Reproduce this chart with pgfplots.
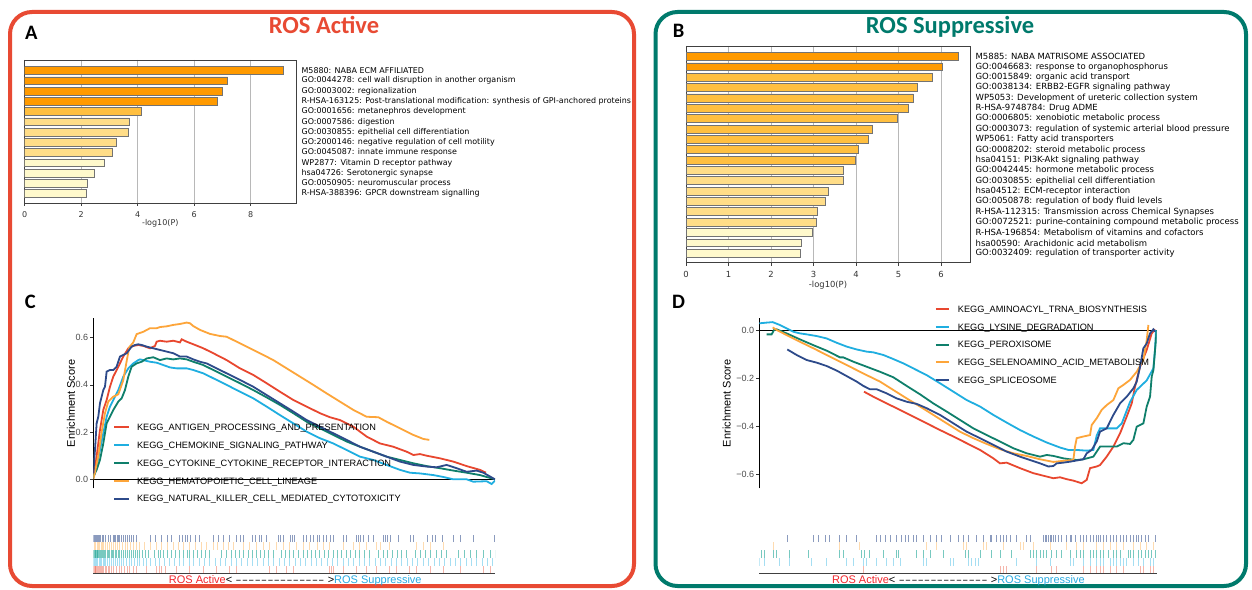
\documentclass[border=0pt]{standalone}
\usepackage{pgfplots}
\pgfplotsset{compat=1.18}
\usepackage{graphicx}
\usepackage{fontspec}
\setmainfont{Liberation Sans}
\newfontfamily\dejavu{DejaVu Sans}
\newfontfamily\carlito{Carlito}
\definecolor{rosred}{HTML}{E84A33}
\definecolor{rosteal}{HTML}{007A6C}
\definecolor{gred}{HTML}{E8472F}
\definecolor{gblue}{HTML}{1FAEE0}
\definecolor{gteal}{HTML}{0F7F6B}
\definecolor{gorange}{HTML}{FDA53A}
\definecolor{gnavy}{HTML}{2D4A8A}
\definecolor{rteal}{HTML}{1FA596}
\definecolor{barA}{HTML}{FF9A00}
\definecolor{barB}{HTML}{FFBF40}
\definecolor{barC}{HTML}{FFDD88}
\definecolor{barD}{HTML}{FFF9CC}
\definecolor{txtred}{HTML}{F2262C}
\definecolor{txtblue}{HTML}{29AAE1}
\newcommand\dirlabel{\textcolor{txtred}{ROS Active}<\hbox to 95.5pt{\cleaders\hbox to 6.37pt{\hss\scalebox{0.72}[1]{–}\hss}\hfil}>\textcolor{txtblue}{ROS Suppressive}}
\pgfplotsset{
  barchart/.style={
    anchor=south west, scale only axis, xbar, bar shift=0pt,
    y dir=reverse, xmajorgrids, grid style={draw=black!28, line width=0.9pt},
    axis line style={draw=black!75, line width=0.8pt},
    xtick pos=left, tick align=outside, major tick length=3pt,
    tick style={black!75, line width=0.7pt},
    ytick pos=right, yticklabel pos=right, ytick style={draw=none},
    yticklabel style={anchor=west, inner sep=0pt, xshift=2.4pt},
    xticklabel style={text=black!80, inner sep=0pt, anchor=north, yshift=-5pt},
    xlabel style={text=black!80, inner sep=0pt, at={(axis description cs:0.5,0)}, anchor=north},
  },
  gsea/.style={
    anchor=south west, scale only axis, height=170pt,
    axis x line=none, axis y line*=left,
    y axis line style={-, black, line width=0.9pt},
    tick align=outside, major tick length=3pt, tick style={black!80, line width=0.7pt},
    yticklabel style={font=\fontsize{9}{9}\selectfont, text=black!70, inner sep=0pt, anchor=east, xshift=-2pt},
    ylabel={Enrichment Score},
    ylabel style={font=\fontsize{11}{11}\selectfont, anchor=center},
    legend cell align=left,
    legend style={draw=none, fill=none, inner sep=0pt, outer sep=0pt, anchor=north west,
      font=\fontsize{9.2}{9.2}\selectfont,
      nodes={inner sep=0pt, text height=6.6pt, text depth=0pt}},
  },
  rug/.style={
    anchor=south west, scale only axis, height=39pt, ymin=0, ymax=5,
    axis x line*=bottom, axis y line=none, xtick=\empty, ytick=\empty,
    x axis line style={-, black!75, line width=1.3pt},
  },
}
\begin{document}
\begin{tikzpicture}
\path[use as bounding box] (0pt,0pt) rectangle (1252pt,589pt);
\clip (0pt,0pt) rectangle (1252pt,589pt);
\fill[white] (0pt,0pt) rectangle (1252pt,589pt);

% borders
\draw[rosred, line width=4pt, rounded corners=22pt] (10pt,3pt) rectangle (634pt,577pt);
\draw[rosteal, line width=4pt, rounded corners=22pt] (655.5pt,3pt) rectangle (1246pt,577pt);

% titles and panel letters
\node[anchor=base, inner sep=0pt, text=rosred, font=\carlito\bfseries\fontsize{24.5}{24.5}\selectfont] at (324pt,555.7pt) {ROS Active};
\node[anchor=base, inner sep=0pt, text=rosteal, font=\carlito\bfseries\fontsize{24.5}{24.5}\selectfont] at (950pt,555.7pt) {ROS Suppressive};
\node[anchor=base west, inner sep=0pt, font=\carlito\bfseries\fontsize{20.5}{20.5}\selectfont] at (25pt,549.7pt) {A};
\node[anchor=base west, inner sep=0pt, font=\carlito\bfseries\fontsize{20.5}{20.5}\selectfont] at (672.7pt,551pt) {B};
\node[anchor=base west, inner sep=0pt, font=\carlito\bfseries\fontsize{20.5}{20.5}\selectfont] at (24.6pt,280pt) {C};
\node[anchor=base west, inner sep=0pt, font=\carlito\bfseries\fontsize{20.5}{20.5}\selectfont] at (672pt,280pt) {D};

% ---------------- Panel A bar chart
\begin{axis}[barchart, at={(24.6pt,386pt)}, width=271.4pt, height=143pt,
  bar width=7.8pt, xmin=0, xmax=9.6, ymin=-0.022, ymax=13.906,
  yticklabel style={font=\dejavu\fontsize{7.95}{7.95}\selectfont},
  xticklabel style={font=\dejavu\fontsize{8}{8}\selectfont},
  xlabel style={font=\dejavu\fontsize{8}{8}\selectfont},
  xtick={0,2,4,6,8}, xticklabels={0,2,4,6,8},
  xlabel={-log10(P)}, xlabel style={yshift=-16pt},
  ytick={1,2,3,4,5,6,7,8,9,10,11,12,13},
  yticklabels={M5880: NABA ECM AFFILIATED,
    GO:0044278: cell wall disruption in another organism,
    GO:0003002: regionalization,
    R-HSA-163125: Post-translational modification: synthesis of GPI-anchored proteins,
    GO:0001656: metanephros development,
    GO:0007586: digestion,
    GO:0030855: epithelial cell differentiation,
    GO:2000146: negative regulation of cell motility,
    GO:0045087: innate immune response,
    WP2877: Vitamin D receptor pathway,
    hsa04726: Serotonergic synapse,
    GO:0050905: neuromuscular process,
    R-HSA-388396: GPCR downstream signalling}]
\addplot[fill=barA, draw=black!55, line width=0.7pt] coordinates {(9.17,1) (7.18,2) (6.99,3) (6.81,4)};
\addplot[fill=barB, draw=black!55, line width=0.7pt] coordinates {(4.13,5)};
\addplot[fill=barC, draw=black!55, line width=0.7pt] coordinates {(3.71,6) (3.67,7) (3.25,8) (3.12,9)};
\addplot[fill=barD, draw=black!55, line width=0.7pt] coordinates {(2.82,10) (2.47,11) (2.21,12) (2.18,13)};
\end{axis}

% ---------------- Panel B bar chart
\begin{axis}[barchart, at={(686pt,326.3pt)}, width=284pt, height=216.7pt,
  bar width=7.9pt, xmin=0, xmax=6.68, ymin=-0.014, ymax=20.918,
  yticklabel style={font=\dejavu\fontsize{8.5}{8.5}\selectfont},
  xticklabel style={font=\dejavu\fontsize{8.4}{8.4}\selectfont},
  xlabel style={font=\dejavu\fontsize{8.4}{8.4}\selectfont},
  xtick={0,1,2,3,4,5,6}, xticklabels={0,1,2,3,4,5,6},
  xlabel={-log10(P)}, xlabel style={yshift=-18pt},
  ytick={1,2,3,4,5,6,7,8,9,10,11,12,13,14,15,16,17,18,19,20},
  yticklabels={M5885: NABA MATRISOME ASSOCIATED,
    GO:0046683: response to organophosphorus,
    GO:0015849: organic acid transport,
    GO:0038134: ERBB2-EGFR signaling pathway,
    WP5053: Development of ureteric collection system,
    R-HSA-9748784: Drug ADME,
    GO:0006805: xenobiotic metabolic process,
    GO:0003073: regulation of systemic arterial blood pressure,
    WP5061: Fatty acid transporters,
    GO:0008202: steroid metabolic process,
    hsa04151: PI3K-Akt signaling pathway,
    GO:0042445: hormone metabolic process,
    GO:0030855: epithelial cell differentiation,
    hsa04512: ECM-receptor interaction,
    GO:0050878: regulation of body fluid levels,
    R-HSA-112315: Transmission across Chemical Synapses,
    GO:0072521: purine-containing compound metabolic process,
    R-HSA-196854: Metabolism of vitamins and cofactors,
    hsa00590: Arachidonic acid metabolism,
    GO:0032409: regulation of transporter activity}]
\addplot[fill=barA, draw=black!55, line width=0.7pt] coordinates {(6.41,1) (6.02,2)};
\addplot[fill=barB, draw=black!55, line width=0.7pt] coordinates {(5.80,3) (5.44,4) (5.34,5) (5.23,6) (4.96,7) (4.39,8) (4.30,9) (4.06,10) (3.99,11)};
\addplot[fill=barC, draw=black!55, line width=0.7pt] coordinates {(3.70,12) (3.69,13) (3.34,14) (3.28,15) (3.08,16) (3.07,17)};
\addplot[fill=barD, draw=black!55, line width=0.7pt] coordinates {(2.97,18) (2.71,19) (2.68,20)};
\end{axis}

% ---------------- Panel C running enrichment score
\begin{axis}[gsea, at={(93.3pt,100.7pt)}, width=401.7pt,
  xmin=0, xmax=1205, ymin=-0.038, ymax=0.682,
  ytick={0,0.2,0.4,0.6}, yticklabels={0.0,0.2,0.4,0.6},
  ylabel style={at={(axis description cs:-0.0555,0.5)}},
  legend style={at={(0.0498,0.378)}, row sep=11.2pt,
    /tikz/every odd column/.append style={column sep=6.7pt}},
  legend image code/.code={\draw[#1, line width=2pt] (0pt,0pt) -- (15pt,0pt);}]
\addplot[black, line width=0.9pt, forget plot] coordinates {(0,0) (1205,0)};
\addplot[gred, line width=1.8pt] coordinates {(0,0.011)(10,0.096)(20,0.209)(30,0.294)(40,0.336)(50,0.392)(60,0.435)(75,0.477)(90,0.520)(105,0.555)(120,0.565)(135,0.569)(150,0.565)(170,0.555)(185,0.565)(190,0.583)(200,0.587)(220,0.583)(240,0.587)(260,0.580)(265,0.593)(280,0.583)(300,0.572)(330,0.555)(360,0.534)(400,0.505)(440,0.470)(480,0.442)(520,0.407)(560,0.371)(600,0.336)(640,0.308)(680,0.280)(710,0.263)(740,0.251)(780,0.223)(820,0.181)(860,0.152)(900,0.138)(940,0.117)(960,0.103)(980,0.107)(1000,0.100)(1040,0.089)(1080,0.075)(1120,0.056)(1160,0.040)(1178,0.028)};
\addlegendentry{KEGG\_ANTIGEN\_PROCESSING\_AND\_PRESENTATION}
\addplot[gblue, line width=1.8pt] coordinates {(0,0.004)(10,0.054)(20,0.124)(30,0.195)(40,0.265)(50,0.308)(60,0.336)(75,0.378)(90,0.435)(105,0.470)(120,0.491)(135,0.505)(140,0.508)(150,0.505)(170,0.498)(190,0.494)(210,0.484)(230,0.474)(250,0.470)(280,0.470)(300,0.463)(330,0.449)(360,0.428)(400,0.400)(440,0.371)(480,0.343)(520,0.308)(560,0.272)(600,0.237)(640,0.202)(680,0.174)(720,0.152)(760,0.124)(800,0.096)(840,0.082)(880,0.061)(920,0.040)(950,0.028)(980,0.025)(1020,0.018)(1050,0.010)(1080,0.000)(1120,0.000)(1140,-0.010)(1180,-0.008)(1195,-0.020)(1205,-0.005)};
\addlegendentry{KEGG\_CHEMOKINE\_SIGNALING\_PATHWAY}
\addplot[gteal, line width=1.8pt] coordinates {(0,0.011)(10,0.040)(20,0.082)(30,0.152)(40,0.237)(50,0.265)(60,0.294)(75,0.329)(85,0.343)(95,0.378)(105,0.435)(115,0.477)(130,0.491)(145,0.498)(160,0.512)(180,0.517)(200,0.505)(220,0.512)(240,0.508)(260,0.512)(280,0.508)(300,0.498)(330,0.484)(360,0.463)(400,0.435)(440,0.407)(480,0.378)(520,0.347)(560,0.315)(600,0.280)(640,0.244)(680,0.216)(720,0.188)(760,0.160)(800,0.138)(840,0.117)(880,0.096)(920,0.082)(960,0.068)(1000,0.056)(1040,0.047)(1080,0.037)(1120,0.028)(1160,0.018)(1205,0.000)};
\addlegendentry{KEGG\_CYTOKINE\_CYTOKINE\_RECEPTOR\_INTERACTION}
\addplot[gorange, line width=1.8pt] coordinates {(0,0.000)(5,0.030)(15,0.100)(25,0.200)(35,0.280)(45,0.330)(60,0.350)(75,0.360)(90,0.420)(100,0.500)(108,0.560)(120,0.580)(130,0.615)(140,0.620)(150,0.625)(170,0.640)(190,0.640)(200,0.645)(220,0.648)(240,0.654)(260,0.658)(280,0.664)(290,0.661)(300,0.649)(320,0.633)(350,0.616)(380,0.607)(400,0.604)(420,0.590)(460,0.562)(500,0.534)(540,0.505)(580,0.470)(620,0.435)(660,0.400)(700,0.364)(740,0.329)(780,0.294)(820,0.265)(855,0.263)(880,0.244)(920,0.216)(960,0.188)(990,0.171)(1008,0.167)};
\addlegendentry{KEGG\_HEMATOPOIETIC\_CELL\_LINEAGE}
\addplot[gnavy, line width=1.8pt] coordinates {(0,0.025)(5,0.124)(10,0.237)(15,0.265)(20,0.322)(25,0.350)(30,0.378)(35,0.392)(40,0.456)(50,0.463)(60,0.463)(70,0.477)(80,0.520)(90,0.527)(100,0.534)(115,0.562)(125,0.569)(135,0.572)(145,0.569)(160,0.562)(180,0.555)(200,0.548)(220,0.541)(240,0.534)(260,0.520)(280,0.520)(300,0.508)(320,0.498)(340,0.491)(360,0.477)(400,0.449)(440,0.421)(480,0.392)(520,0.357)(560,0.322)(600,0.287)(640,0.251)(680,0.223)(720,0.195)(760,0.167)(800,0.138)(840,0.117)(880,0.096)(920,0.075)(960,0.061)(1000,0.054)(1030,0.051)(1060,0.061)(1090,0.047)(1120,0.032)(1150,0.037)(1170,0.028)(1205,0.000)};
\addlegendentry{KEGG\_NATURAL\_KILLER\_CELL\_MEDIATED\_CYTOTOXICITY}
\end{axis}

% ---------------- Panel C rug
\begin{axis}[rug, at={(93.3pt,15.7pt)}, width=401.7pt, xmin=0, xmax=1205]
\addplot[gnavy, opacity=0.55, line width=1pt, quiver={u=0,v=0.95}] coordinates {(2,4)(5,4)(8,4)(11,4)(14,4)(17,4)(20,4)(23,4)(27,4)(32,4)(38,4)(45,4)(52,4)(60,4)(64,4)(68,4)(72,4)(76,4)(80,4)(86,4)(90,4)(96,4)(102,4)(108,4)(114,4)(120,4)(130,4)(172,4)(188,4)(204,4)(222,4)(236,4)(260,4)(268,4)(276,4)(284,4)(292,4)(308,4)(320,4)(360,4)(376,4)(392,4)(408,4)(430,4)(442,4)(452,4)(478,4)(488,4)(498,4)(506,4)(520,4)(556,4)(562,4)(570,4)(592,4)(598,4)(604,4)(632,4)(640,4)(652,4)(662,4)(672,4)(680,4)(690,4)(700,4)(712,4)(722,4)(750,4)(760,4)(790,4)(796,4)(802,4)(812,4)(826,4)(840,4)(872,4)(878,4)(882,4)(892,4)(916,4)(952,4)(962,4)(1002,4)(1016,4)(1026,4)(1046,4)(1080,4)(1100,4)(1140,4)(1202,4)};
\addplot[gorange, opacity=0.4, line width=1pt, quiver={u=0,v=0.95}] coordinates {(4,3)(8,3)(12,3)(16,3)(20,3)(24,3)(28,3)(32,3)(38,3)(44,3)(50,3)(56,3)(62,3)(68,3)(74,3)(80,3)(88,3)(96,3)(104,3)(112,3)(120,3)(130,3)(140,3)(154,3)(172,3)(190,3)(206,3)(224,3)(240,3)(256,3)(272,3)(290,3)(308,3)(326,3)(340,3)(362,3)(374,3)(390,3)(406,3)(422,3)(452,3)(470,3)(490,3)(510,3)(530,3)(550,3)(570,3)(590,3)(610,3)(630,3)(650,3)(672,3)(690,3)(710,3)(750,3)(780,3)(800,3)(820,3)(850,3)(862,3)(890,3)(970,3)(990,3)(1010,3)(1050,3)};
\addplot[rteal, opacity=0.6, line width=1pt, quiver={u=0,v=0.95}] coordinates {(2,2)(4,2)(6,2)(8,2)(10,2)(12,2)(14,2)(17,2)(20,2)(23,2)(26,2)(29,2)(32,2)(35,2)(38,2)(42,2)(46,2)(50,2)(54,2)(58,2)(62,2)(66,2)(70,2)(75,2)(80,2)(85,2)(90,2)(96,2)(102,2)(108,2)(114,2)(120,2)(126,2)(133,2)(140,2)(148,2)(156,2)(165,2)(185,2)(195,2)(203,2)(212,2)(222,2)(234,2)(246,2)(258,2)(270,2)(282,2)(290,2)(300,2)(312,2)(324,2)(336,2)(348,2)(386,2)(400,2)(414,2)(426,2)(440,2)(452,2)(466,2)(478,2)(490,2)(502,2)(514,2)(526,2)(540,2)(565,2)(578,2)(590,2)(602,2)(616,2)(630,2)(642,2)(654,2)(668,2)(680,2)(694,2)(706,2)(720,2)(734,2)(746,2)(760,2)(772,2)(786,2)(800,2)(814,2)(828,2)(856,2)(870,2)(884,2)(898,2)(912,2)(926,2)(940,2)(968,2)(982,2)(996,2)(1012,2)(1028,2)(1044,2)(1060,2)(1094,2)(1112,2)(1130,2)(1150,2)(1170,2)(1190,2)(1205,2)};
\addplot[gblue, opacity=0.4, line width=1pt, quiver={u=0,v=0.95}] coordinates {(2,1)(5,1)(8,1)(11,1)(14,1)(18,1)(22,1)(26,1)(30,1)(34,1)(38,1)(43,1)(48,1)(54,1)(60,1)(66,1)(72,1)(78,1)(85,1)(92,1)(100,1)(108,1)(116,1)(124,1)(132,1)(140,1)(150,1)(160,1)(172,1)(186,1)(200,1)(214,1)(228,1)(244,1)(258,1)(272,1)(288,1)(302,1)(318,1)(334,1)(350,1)(366,1)(382,1)(398,1)(414,1)(430,1)(446,1)(462,1)(478,1)(494,1)(510,1)(526,1)(542,1)(558,1)(574,1)(590,1)(606,1)(622,1)(638,1)(654,1)(670,1)(686,1)(702,1)(718,1)(734,1)(750,1)(766,1)(782,1)(798,1)(814,1)(830,1)(846,1)(862,1)(878,1)(894,1)(910,1)(926,1)(942,1)(958,1)(974,1)(990,1)(1006,1)(1022,1)(1038,1)(1054,1)(1070,1)(1086,1)(1102,1)(1118,1)(1134,1)(1150,1)(1166,1)(1182,1)(1198,1)};
\addplot[gred, opacity=0.4, line width=1pt, quiver={u=0,v=0.95}] coordinates {(2,0)(4,0)(6,0)(8,0)(10,0)(12,0)(15,0)(18,0)(21,0)(24,0)(28,0)(32,0)(36,0)(40,0)(45,0)(50,0)(56,0)(62,0)(70,0)(78,0)(86,0)(94,0)(102,0)(110,0)(120,0)(130,0)(160,0)(190,0)(198,0)(204,0)(216,0)(250,0)(290,0)(330,0)(370,0)(410,0)(430,0)(530,0)(550,0)(580,0)(600,0)(710,0)(716,0)(722,0)(750,0)(790,0)(820,0)(850,0)(890,0)(910,0)(950,0)(970,0)(1010,0)(1050,0)(1100,0)(1170,0)(1190,0)};
\end{axis}

% ---------------- Panel D running enrichment score
\begin{axis}[gsea, at={(759.3pt,100.7pt)}, width=397.4pt,
  xmin=0, xmax=1192, ymin=-0.660, ymax=0.049,
  ytick={-0.6,-0.4,-0.2,0}, yticklabels={−0.6,−0.4,−0.2,0.0},
  ylabel style={at={(axis description cs:-0.082,0.5)}},
  legend style={at={(0.442,1.074)}, row sep=11.15pt,
    /tikz/every odd column/.append style={column sep=7.7pt}},
  legend image code/.code={\draw[#1, line width=2pt] (0pt,0pt) -- (13.3pt,0pt);}]
\addplot[black, line width=0.9pt, forget plot] coordinates {(0,0) (1192,0)};
\addplot[gred, line width=1.8pt] coordinates {(314,-0.257)(342,-0.278)(382,-0.306)(422,-0.333)(462,-0.361)(502,-0.389)(542,-0.417)(582,-0.444)(622,-0.472)(662,-0.500)(702,-0.535)(722,-0.556)(742,-0.553)(782,-0.576)(822,-0.597)(862,-0.611)(882,-0.618)(902,-0.614)(922,-0.622)(942,-0.628)(967,-0.639)(982,-0.625)(992,-0.576)(1012,-0.569)(1022,-0.563)(1042,-0.528)(1062,-0.486)(1082,-0.431)(1102,-0.361)(1117,-0.306)(1127,-0.236)(1142,-0.153)(1162,-0.083)(1177,-0.014)(1187,0.003)};
\addlegendentry{KEGG\_AMINOACYL\_TRNA\_BIOSYNTHESIS}
\addplot[gblue, line width=1.8pt] coordinates {(0,0.028)(22,0.031)(40,0.033)(62,0.021)(82,0.007)(102,-0.007)(122,-0.014)(142,-0.018)(172,-0.025)(202,-0.035)(232,-0.053)(262,-0.069)(292,-0.081)(322,-0.090)(342,-0.093)(372,-0.104)(402,-0.121)(432,-0.139)(462,-0.160)(502,-0.188)(542,-0.222)(582,-0.257)(622,-0.292)(662,-0.319)(702,-0.354)(742,-0.386)(782,-0.417)(822,-0.444)(862,-0.469)(902,-0.490)(927,-0.500)(952,-0.500)(982,-0.503)(1002,-0.500)(1012,-0.440)(1022,-0.410)(1072,-0.410)(1087,-0.390)(1112,-0.300)(1132,-0.250)(1162,-0.210)(1182,-0.160)(1187,-0.080)(1190,0.000)};
\addlegendentry{KEGG\_LYSINE\_DEGRADATION}
\addplot[gteal, line width=1.8pt] coordinates {(22,-0.018)(37,-0.018)(44,0.000)(52,0.003)(82,-0.014)(122,-0.039)(162,-0.063)(202,-0.086)(242,-0.114)(252,-0.114)(282,-0.132)(322,-0.153)(362,-0.174)(402,-0.197)(442,-0.233)(482,-0.268)(522,-0.306)(562,-0.340)(602,-0.375)(642,-0.410)(682,-0.438)(722,-0.465)(762,-0.493)(802,-0.514)(842,-0.528)(862,-0.521)(882,-0.525)(912,-0.535)(932,-0.539)(952,-0.542)(972,-0.539)(1002,-0.528)(1022,-0.486)(1047,-0.486)(1072,-0.486)(1092,-0.472)(1112,-0.475)(1122,-0.458)(1132,-0.403)(1152,-0.389)(1162,-0.319)(1172,-0.278)(1177,-0.194)(1182,-0.167)(1187,-0.083)(1192,0.000)};
\addlegendentry{KEGG\_PEROXISOME}
\addplot[gorange, line width=1.8pt] coordinates {(40,0.011)(52,0.000)(82,-0.021)(122,-0.049)(162,-0.076)(202,-0.104)(242,-0.132)(282,-0.160)(322,-0.188)(362,-0.215)(402,-0.250)(442,-0.285)(482,-0.319)(522,-0.354)(562,-0.389)(602,-0.424)(642,-0.451)(682,-0.475)(722,-0.497)(762,-0.514)(802,-0.525)(842,-0.539)(882,-0.550)(922,-0.544)(942,-0.542)(947,-0.486)(952,-0.451)(972,-0.444)(992,-0.438)(997,-0.396)(1012,-0.368)(1027,-0.333)(1042,-0.313)(1062,-0.292)(1077,-0.243)(1092,-0.229)(1112,-0.208)(1132,-0.174)(1152,-0.125)(1162,-0.042)(1167,0.021)};
\addlegendentry{KEGG\_SELENOAMINO\_ACID\_METABOLISM}
\addplot[gnavy, line width=1.8pt] coordinates {(84,-0.081)(112,-0.104)(142,-0.125)(172,-0.136)(202,-0.150)(232,-0.169)(262,-0.192)(292,-0.215)(312,-0.233)(332,-0.247)(352,-0.247)(382,-0.264)(412,-0.285)(442,-0.299)(472,-0.308)(502,-0.326)(542,-0.354)(582,-0.389)(622,-0.424)(662,-0.451)(702,-0.479)(742,-0.507)(782,-0.528)(812,-0.542)(842,-0.556)(867,-0.569)(882,-0.567)(892,-0.556)(912,-0.553)(932,-0.549)(952,-0.544)(972,-0.539)(982,-0.514)(997,-0.500)(1012,-0.465)(1022,-0.424)(1042,-0.410)(1062,-0.354)(1082,-0.306)(1102,-0.278)(1122,-0.243)(1132,-0.215)(1142,-0.153)(1152,-0.076)(1162,-0.056)(1172,-0.014)(1182,0.003)(1187,-0.007)};
\addlegendentry{KEGG\_SPLICEOSOME}
\end{axis}

% ---------------- Panel D rug
\begin{axis}[rug, at={(759.3pt,15.7pt)}, width=397.4pt, xmin=0, xmax=1192]
\addplot[gnavy, opacity=0.55, line width=1pt, quiver={u=0,v=0.95}] coordinates {(84,4)(162,4)(177,4)(200,4)(212,4)(242,4)(262,4)(292,4)(352,4)(362,4)(377,4)(392,4)(412,4)(427,4)(437,4)(447,4)(462,4)(472,4)(492,4)(512,4)(532,4)(547,4)(572,4)(597,4)(612,4)(627,4)(652,4)(672,4)(692,4)(697,4)(712,4)(722,4)(732,4)(742,4)(752,4)(772,4)(802,4)(812,4)(852,4)(857,4)(862,4)(867,4)(872,4)(877,4)(882,4)(887,4)(897,4)(907,4)(922,4)(932,4)(937,4)(947,4)(962,4)(972,4)(982,4)(992,4)(1002,4)(1012,4)(1017,4)(1022,4)(1032,4)(1042,4)(1052,4)(1062,4)(1072,4)(1082,4)(1092,4)(1102,4)(1112,4)(1122,4)(1132,4)(1137,4)(1147,4)(1157,4)(1167,4)(1187,4)};
\addplot[gorange, opacity=0.4, line width=1pt, quiver={u=0,v=0.95}] coordinates {(42,3)(242,3)(302,3)(502,3)(532,3)(612,3)(622,3)(672,3)(682,3)(732,3)(782,3)(792,3)(822,3)(872,3)(922,3)(952,3)(972,3)(1012,3)(1032,3)(1052,3)(1072,3)(1092,3)(1122,3)(1142,3)(1162,3)(1182,3)};
\addplot[rteal, opacity=0.6, line width=1pt, quiver={u=0,v=0.95}] coordinates {(7,2)(17,2)(42,2)(52,2)(92,2)(147,2)(242,2)(252,2)(307,2)(317,2)(332,2)(372,2)(412,2)(417,2)(472,2)(492,2)(512,2)(552,2)(617,2)(627,2)(662,2)(697,2)(722,2)(757,2)(812,2)(822,2)(832,2)(842,2)(852,2)(862,2)(877,2)(892,2)(907,2)(932,2)(952,2)(962,2)(972,2)(992,2)(1002,2)(1012,2)(1022,2)(1032,2)(1047,2)(1062,2)(1072,2)(1082,2)(1107,2)(1112,2)(1122,2)(1137,2)(1147,2)(1157,2)(1167,2)(1177,2)(1187,2)};
\addplot[gblue, opacity=0.4, line width=1pt, quiver={u=0,v=0.95}] coordinates {(2,1)(17,1)(62,1)(92,1)(157,1)(202,1)(262,1)(282,1)(312,1)(322,1)(352,1)(382,1)(402,1)(422,1)(492,1)(502,1)(572,1)(582,1)(627,1)(637,1)(647,1)(657,1)(772,1)(832,1)(872,1)(932,1)(942,1)(972,1)(992,1)(1012,1)(1022,1)(1032,1)(1052,1)(1062,1)(1072,1)(1082,1)(1092,1)(1102,1)(1122,1)(1137,1)(1152,1)(1172,1)(1182,1)};
\addplot[gred, opacity=0.4, line width=1pt, quiver={u=0,v=0.95}] coordinates {(312,0)(722,0)(732,0)(742,0)(832,0)(877,0)(892,0)(972,0)(992,0)(1012,0)(1022,0)(1032,0)(1052,0)(1072,0)(1092,0)(1142,0)(1152,0)(1172,0)(1182,0)};
\end{axis}

% bottom direction labels
\node[anchor=base, inner sep=0pt, font=\fontsize{11}{11}\selectfont] at (295.3pt,5.5pt) {\dirlabel};
\node[anchor=base, inner sep=0pt, font=\fontsize{11}{11}\selectfont] at (958.4pt,5.5pt) {\dirlabel};
\end{tikzpicture}
\end{document}
